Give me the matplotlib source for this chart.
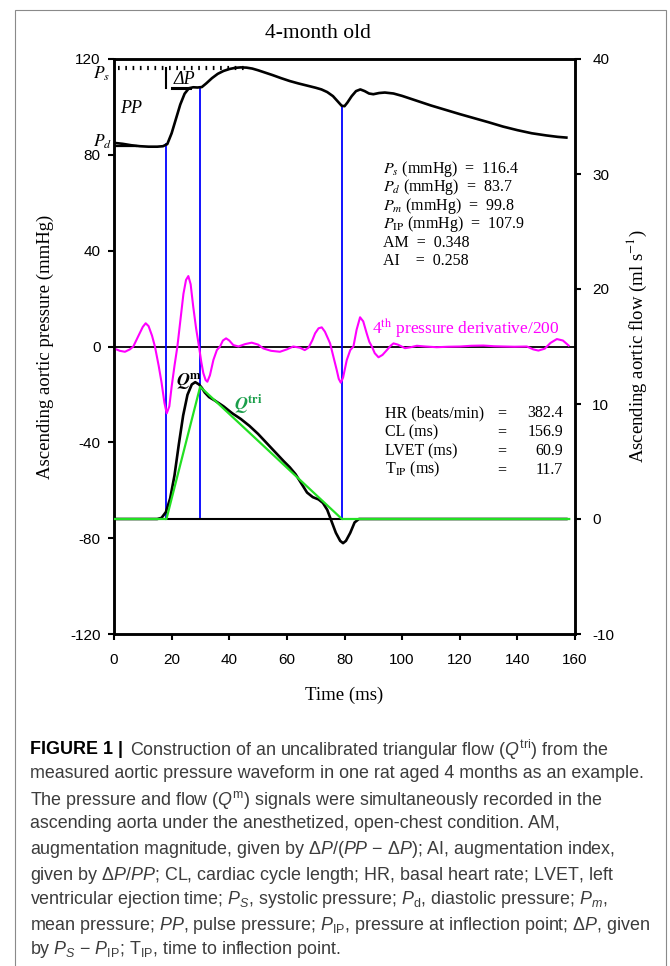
import numpy as np
import matplotlib.pyplot as plt
from matplotlib.patches import Rectangle

plt.rcParams['font.family'] = 'Liberation Sans'
plt.rcParams['axes.unicode_minus'] = False
plt.rcParams['mathtext.fontset'] = 'custom'
plt.rcParams['mathtext.rm'] = 'Liberation Sans'
plt.rcParams['mathtext.it'] = 'Liberation Sans:italic'
plt.rcParams['mathtext.bf'] = 'Liberation Sans:bold'

SERIF = 'Liberation Serif'

# ascending aortic pressure (mmHg)
time_p = [0, 3, 6, 9, 12, 15, 17, 18.5, 20, 21.5, 23, 24.5, 26, 27.5, 29, 30.5,
          32, 34, 36, 38, 40, 42, 44, 46, 48, 50, 52, 55, 58, 61, 64, 67, 70,
          72, 74, 76, 77.5, 79, 80, 81, 82.5, 84, 85.5, 87, 88.5, 90, 92, 94,
          97, 100, 105, 110, 115, 120, 125, 130, 135, 140, 145, 150, 154, 157]
pressure = [85.0, 84.6, 84.0, 83.6, 83.4, 83.4, 83.6, 84.5, 89.0, 95.0, 101.0,
            105.5, 107.8, 108.2, 108.1, 108.3, 109.8, 112.0, 113.8, 115.0,
            115.8, 116.3, 116.5, 116.4, 116.0, 115.3, 114.5, 113.3, 112.0,
            110.8, 109.8, 108.9, 108.0, 107.3, 106.2, 104.5, 102.5, 100.5,
            100.3, 101.8, 104.5, 106.6, 107.3, 106.6, 105.6, 105.3, 105.8,
            106.0, 105.6, 104.6, 102.6, 100.6, 98.8, 97.0, 95.3, 93.6, 91.8,
            90.3, 89.0, 88.1, 87.5, 87.2]

# measured ascending aortic flow Q^m (ml/s)
time_q = [0, 15, 16.5, 18, 19.5, 21, 22.5, 24, 25.5, 27, 28.2, 29.5, 30.5,
          31.5, 33, 35, 38, 41, 44, 47, 50, 53, 56, 59, 61, 63, 65, 67, 69,
          71, 72.5, 74, 75.5, 77, 78.5, 79.5, 80.5, 82, 83.5, 85, 157]
flow_m = [0, 0, 0.1, 0.6, 1.8, 3.8, 6.5, 9.0, 10.8, 11.7, 11.9, 11.7, 11.4,
          11.0, 10.6, 10.3, 9.8, 9.2, 8.7, 8.1, 7.4, 6.6, 5.8, 5.0, 4.5, 3.9,
          3.1, 2.3, 1.9, 1.7, 1.4, 0.8, -0.2, -1.2, -1.9, -2.1, -1.9, -1.2,
          -0.3, 0, 0]

# 4th pressure derivative / 200 (drawn on pressure scale)
time_d4 = [0, 2, 3.8, 5.5, 6.7, 8.5, 10, 11, 12, 13.2, 14.2, 15.5, 16.5, 17.5,
           18.3, 19.2, 20, 21, 22, 23, 24.1, 25, 25.8, 26.6, 27.5, 28.5, 29.5,
           30.3, 31, 31.8, 32.4, 33.3, 34.5, 35.7, 36.8, 37.8, 38.9, 40, 41.4,
           43.2, 45.5, 47.8, 50, 51.8, 54.5, 57.6, 60, 62.2, 64.5, 66.2, 67.5,
           68.8, 69.8, 71, 72.1, 73.2, 74.2, 75, 76.2, 77.3, 78, 78.7, 79.5,
           80.8, 82, 83.1, 84.2, 85.4, 86.5, 87.7, 88.6, 89.5, 90.5, 91.8,
           93.2, 94.7, 96, 97, 98.5, 101, 103, 105.1, 108, 112, 116, 120.2,
           124, 128.2, 132, 135.2, 139, 143.3, 145.5, 147.3, 149.5, 151.5,
           153.7, 155.8, 157.8]
deriv4 = [-0.8, -1.8, -2.2, -1.2, 0, 4.5, 8.2, 9.7, 8.5, 4.5, 0, -8, -15,
          -23.5, -27.9, -25, -16.8, -8, 0, 10.5, 22, 27.8, 29.4, 26, 16.6, 7.5,
          0, -6.5, -11.1, -14, -14.7, -12, -5.6, -1.5, 0, 2.5, 3.4, 2.5, 0.6,
          0, 1.0, 1.6, 0.8, -0.8, -1.8, -2.2, -1.2, 0, -0.5, -1.5, -0.5, 2.5,
          5.5, 7.6, 8.0, 6.2, 3.5, 1.3, -4.5, -9.8, -13.5, -15.1, -13, -5.6,
          -1.5, 0, 7, 12.2, 10.5, 5.5, 2, 0, -2.8, -4.5, -3.5, -1.5, 0.3, 1.3,
          0.8, -0.7, -0.3, 0.3, 0, -0.3, -0.1, 0, 0.3, 0.4, 0.1, 0, -0.1, 0,
          -1.2, -1.7, -0.9, 1.5, 3.1, 2.5, 0.4]

# derived indices
Ps, Pd, Pm, Pip = 116.4, 83.7, 99.8, 107.9
AM, AI = 0.348, 0.258
HR, CL, LVET, Tip = 382.4, 156.9, 60.9, 11.7
t_foot = 18.2      # foot of the pressure wave (ms)
q_apex = 11.5      # apex of the triangular flow (ml/s)
t_last = 158

t_ip = t_foot + Tip
t_end = t_foot + LVET
tri_t = [0, t_foot, t_ip, t_end, t_last]
tri_q = [0, 0, q_apex, 0, 0]

fig = plt.figure(figsize=(6.7, 9.66), dpi=100)
ax = fig.add_axes([114 / 670, 1 - 634 / 966, 461 / 670, 575 / 966])
ax2 = ax.twinx()

p_lim = (-120, 120)
q_lim = (-10, 40)
ax.set_xlim(0, 160)
ax.set_ylim(*p_lim)
ax2.set_ylim(*q_lim)
ax.set_xticks(np.arange(0, 161, 20))
ax.set_yticks(np.arange(-120, 121, 40))
ax2.set_yticks(np.arange(-10, 41, 10))

for a in (ax, ax2):
    for s in a.spines.values():
        s.set_linewidth(1.8)
ax.tick_params(axis='both', direction='out', length=4.5, width=1.5, labelsize=11)
ax.tick_params(axis='x', pad=9)
ax.tick_params(axis='y', pad=5)
ax2.tick_params(axis='y', direction='out', length=4.5, width=1.5, labelsize=11, pad=8)

# flow zero expressed on the pressure scale
q0_p = p_lim[0] + (0 - q_lim[0]) * (p_lim[1] - p_lim[0]) / (q_lim[1] - q_lim[0])

# pressure zero line and 4th derivative
ax.axhline(0, color='black', lw=1.3, zorder=2)
ax.plot(time_d4, deriv4, color='#ff00ff', lw=1.5, zorder=3)

# timing lines: foot, inflection point, end of ejection
for t in (t_foot, t_ip, t_end):
    ax.plot([t, t], [q0_p, np.interp(t, time_p, pressure)], color='#0000ff',
            lw=1.3, zorder=2)

# pressure waveform and its markers
ax.plot(time_p, pressure, color='black', lw=1.9, zorder=4)
ax.plot([1.4, 45.5], [Ps, Ps], color='black', lw=3.0, dashes=(0.4, 1.35))
ax.plot([0, 7.5], [Pd, Pd], color='black', lw=1.6)
ax.plot([20.3, 26.5], [Pip, Pip], color='black', lw=2.2)
ax.plot([t_foot, t_foot], [Pip, Ps], color='black', lw=1.5)

# flow: measured and triangular
ax2.plot(time_q, flow_m, color='black', lw=1.9, zorder=3)
ax2.plot([t_foot, t_end], [0, 0], color='black', lw=1.5, zorder=3)
ax2.plot(tri_t, tri_q, color='#22e022', lw=1.6, zorder=4)

# curve labels
ax.text(-1.2, 113.8, '$P_s$', family=SERIF, math_fontfamily='stix', size=12.5,
        ha='right', va='center', clip_on=False)
ax.text(-0.8, 85.3, '$P_d$', family=SERIF, math_fontfamily='stix', size=12.5,
        ha='right', va='center', clip_on=False)
ax.text(2.0, 99.5, 'PP', family=SERIF, style='italic', size=13,
        ha='left', va='center')
ax.text(20.6, 111.3, 'ΔP', family=SERIF, style='italic', size=13,
        ha='left', va='center')
ax.text(21.6, -14.5, r'$\mathbfit{Q}^{\mathbf{m}}$', math_fontfamily='stix',
        size=13, ha='left', va='center')
ax.text(41.8, -24.2, r'$\mathbfit{Q}^{\mathbf{tri}}$', math_fontfamily='stix',
        size=13, color='#1a9e4a', ha='left', va='center')
ax.text(89.6, 7.7, '4$^{\\rm th}$ pressure derivative/200', family=SERIF,
        math_fontfamily='stix', size=12.5, color='#ff00ff', ha='left', va='center')

# pressure indices
top_lines = [
    f'$P_s$ (mmHg)  =  {Ps}',
    f'$P_d$ (mmHg)  =  {Pd}',
    f'$P_m$ (mmHg)  =  {Pm}',
    f'$P_{{\\rm IP}}$ (mmHg)  =  {Pip}',
    f'AM  =  {AM:.3f}',
    f'AI    =  {AI:.3f}',
]
for i, s in enumerate(top_lines):
    ax.text(93.4, 74.1 - 7.7 * i, s, family=SERIF, math_fontfamily='stix',
            size=11.5, ha='left', va='center')

# timing indices
bot_names = ['HR (beats/min)', 'CL (ms)', 'LVET (ms)', 'T$_{\\rm IP}$ (ms)']
bot_vals = [HR, CL, LVET, Tip]
for i, (n, v) in enumerate(zip(bot_names, bot_vals)):
    y = -27.8 - 7.9 * i
    ax.text(94.1, y, n, family=SERIF, math_fontfamily='stix', size=11.5,
            ha='left', va='center')
    ax.text(134.7, y, '=', family=SERIF, size=11.5, ha='center', va='center')
    ax.text(155.8, y, f'{v}', family=SERIF, size=11.5, ha='right', va='center')

ax.set_xlabel('Time (ms)', family=SERIF, size=13.5)
ax.xaxis.set_label_coords(0.5, -0.106)
ax.xaxis.label.set_va('center')
ax.set_ylabel('Ascending aortic pressure (mmHg)', family=SERIF, size=13.5)
ax.yaxis.set_label_coords(-0.150, 0.5)
ax.yaxis.label.set_va('center')
ax2.set_ylabel('Ascending aortic flow (ml s$^{-1}$)', family=SERIF,
               math_fontfamily='stix', size=13.5)
ax2.yaxis.set_label_coords(1.134, 0.5)
ax2.yaxis.label.set_va('center')

fig.text(318 / 670, 1 - 33 / 966, '4-month old', family=SERIF, size=15.5,
         ha='center', va='center')

# caption
cap_color = '#3c3c3c'
cap_size = 12.9
caption = [
    'Construction of an uncalibrated triangular flow ($Q^{\\rm tri}$) from the',
    'measured aortic pressure waveform in one rat aged 4 months as an example.',
    'The pressure and flow ($Q^{\\rm m}$) signals were simultaneously recorded in the',
    'ascending aorta under the anesthetized, open-chest condition. AM,',
    'augmentation magnitude, given by Δ$P$/($PP$ − Δ$P$); AI, augmentation index,',
    'given by Δ$P$/$PP$; CL, cardiac cycle length; HR, basal heart rate; LVET, left',
    'ventricular ejection time; $P_S$, systolic pressure; $P_{\\rm d}$, diastolic pressure; $P_m$,',
    'mean pressure; $PP$, pulse pressure; $P_{\\rm IP}$, pressure at inflection point; Δ$P$, given',
    'by $P_S$ − $P_{\\rm IP}$; T$_{\\rm IP}$, time to inflection point.',
]
fig.text(30 / 670, 1 - 747 / 966, 'FIGURE 1 |', weight='bold', size=cap_size,
         color='black', ha='left', va='center_baseline')
for i, line in enumerate(caption):
    x = 130 / 670 if i == 0 else 30 / 670
    fig.text(x, 1 - (747 + 25 * i) / 966, line, size=cap_size, color=cap_color,
             ha='left', va='center_baseline')

# frame around the whole figure
fig.add_artist(Rectangle((15 / 670, -0.05), 651 / 670, 1.05 - 10 / 966,
                         transform=fig.transFigure, fill=False,
                         edgecolor='#8a8a8a', lw=0.8))

fig.savefig('out.png', dpi=100)
